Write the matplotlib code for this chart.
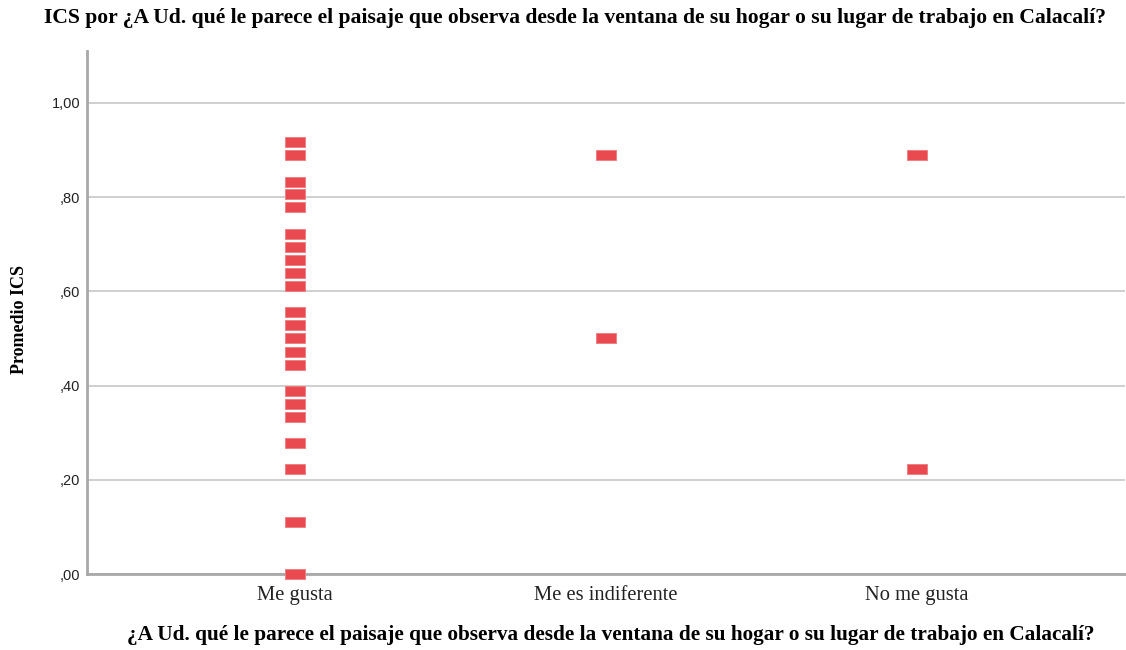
import numpy as np
import matplotlib.pyplot as plt
from matplotlib.ticker import FuncFormatter

# categories and ICS means
categorias = ['Me gusta', 'Me es indiferente', 'No me gusta']
ics_me_gusta = [0.917, 0.889, 0.833, 0.806, 0.778, 0.722, 0.694, 0.667, 0.639, 0.611,
                0.556, 0.528, 0.500, 0.472, 0.444, 0.389, 0.361, 0.333, 0.278, 0.222,
                0.111, 0.000]
ics_indiferente = [0.889, 0.500]
ics_no_gusta = [0.889, 0.222]
y_ticks = [0.0, 0.2, 0.4, 0.6, 0.8, 1.0]

pregunta = '¿A Ud. qué le parece el paisaje que observa desde la ventana de su hogar o su lugar de trabajo en Calacalí?'

fig = plt.figure(figsize=(11.26, 6.5), dpi=100)
ax = fig.add_axes([0.0773, 0.1169, 0.9217, 0.8046])

# flat rectangle marker, like the SPSS one
rect = [(-1, -0.5), (1, -0.5), (1, 0.5), (-1, 0.5), (-1, -0.5)]
color = '#e84a4f'
for i, vals in enumerate([ics_me_gusta, ics_indiferente, ics_no_gusta]):
    ax.scatter(np.full(len(vals), i), vals, marker=rect, s=14.5**2, color=color,
               edgecolors='#f07a7d', linewidths=0.6, zorder=3, clip_on=False)

ax.set_xlim(-0.667, 2.667)
ax.set_ylim(0, 1.11)
ax.set_xticks(range(len(categorias)))
ax.set_xticklabels(categorias, fontfamily='Liberation Serif', fontsize=14.8)
ax.set_yticks(y_ticks)

def fmt(v, pos):
    s = '%.2f' % v
    s = s.replace('.', ',')
    if s.startswith('0'):
        s = s[1:]
    return s

ax.yaxis.set_major_formatter(FuncFormatter(fmt))
for lab in ax.get_yticklabels():
    lab.set_fontfamily('Liberation Sans')
    lab.set_fontsize(10.5)
ax.tick_params(axis='both', length=0, colors='#222222')
ax.tick_params(axis='y', pad=5)
ax.tick_params(axis='x', pad=8.5)

ax.grid(axis='y', color='#cfcfcf', linewidth=1.4)
ax.set_axisbelow(True)
for side in ['top', 'right']:
    ax.spines[side].set_visible(False)
for side in ['left', 'bottom']:
    ax.spines[side].set_color('#a8a8a8')
    ax.spines[side].set_linewidth(2)

fig.text(20 / 1126, 1 - 320 / 650, 'Promedio ICS', rotation=90, ha='center', va='center',
         fontfamily='Liberation Serif', fontweight='bold', fontsize=13)
fig.text(611 / 1126, 1 - 635 / 650, pregunta, ha='center', va='center',
         fontfamily='Liberation Serif', fontweight='bold', fontsize=15.3)
fig.text(575 / 1126, 1 - 18 / 650, 'ICS por ' + pregunta, ha='center', va='center',
         fontfamily='Liberation Serif', fontweight='bold', fontsize=15.6)

fig.savefig('out.png', dpi=100, facecolor='white')
